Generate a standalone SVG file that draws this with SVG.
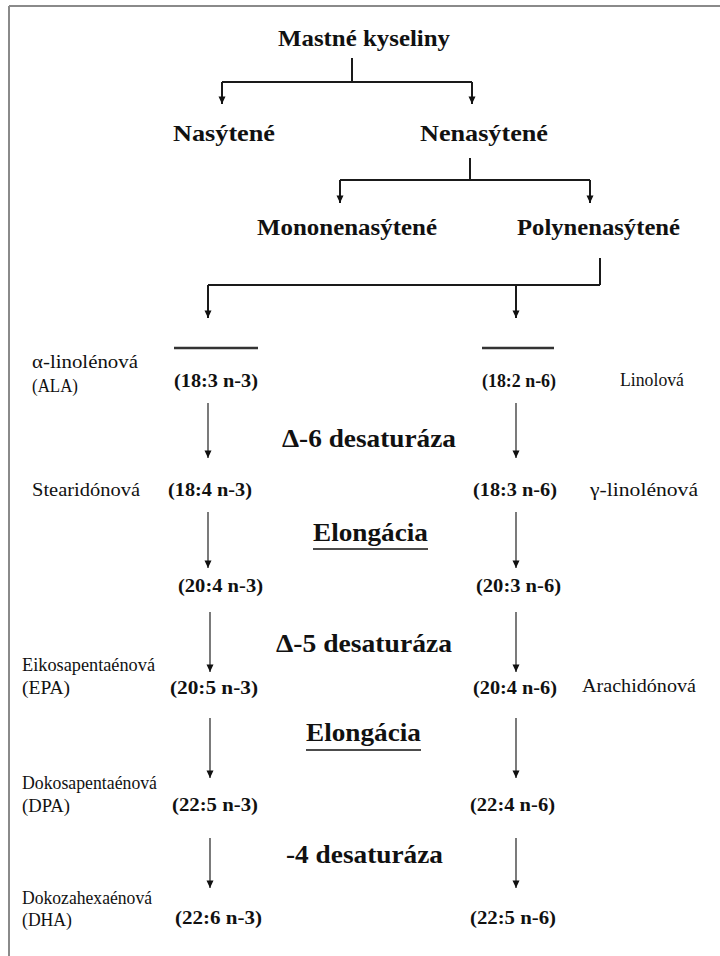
<svg xmlns="http://www.w3.org/2000/svg" width="720" height="956" viewBox="0 0 720 956">
<style>
  text { font-family: "Liberation Serif", "Times New Roman", Times, serif; fill: #111; }
  .h { font-weight: bold; font-size: 23px; }
  .e { font-weight: bold; font-size: 25px; }
  .c { font-weight: bold; font-size: 19px; }
  .n { font-size: 18px; }
  .tree { stroke: #1a1a1a; stroke-width: 2; fill: none; }
  .flow { stroke: #333; stroke-width: 1.3; fill: none; }
  .bar { stroke: #333; stroke-width: 2.5; }
  .frame { stroke: #8a8a8a; stroke-width: 2; }
</style>
<defs>
  <marker id="ad" markerUnits="userSpaceOnUse" markerWidth="8" markerHeight="9" refX="4" refY="8.5" orient="0" viewBox="0 0 8 9">
    <path d="M0.5,1 L7.5,1 L4,8.5 Z" fill="#111"/>
  </marker>
</defs>
<rect width="720" height="956" fill="#fff"/>
<g id="frame">
  <line class="frame" x1="9" y1="6" x2="720" y2="6"/>
  <line class="frame" x1="9" y1="6" x2="9" y2="956"/>
</g>
<g id="connectors">
  <path class="tree" d="M352,58 V82"/>
  <path class="tree" d="M222,82 H472"/>
  <path class="tree" d="M222,82 V104" marker-end="url(#ad)"/>
  <path class="tree" d="M472,82 V104" marker-end="url(#ad)"/>
  <path class="tree" d="M470,158 V180"/>
  <path class="tree" d="M340,180 H590"/>
  <path class="tree" d="M340,180 V203" marker-end="url(#ad)"/>
  <path class="tree" d="M590,180 V203" marker-end="url(#ad)"/>
  <path class="tree" d="M600,258 V285"/>
  <path class="tree" d="M208,285 H600"/>
  <path class="tree" d="M208,285 V318" marker-end="url(#ad)"/>
  <path class="tree" d="M516,285 V318" marker-end="url(#ad)"/>
  <line class="bar" x1="174" y1="348" x2="258" y2="348"/>
  <line class="bar" x1="482" y1="348" x2="554" y2="348"/>
  <path class="flow" d="M208,403 V458" marker-end="url(#ad)"/>
  <path class="flow" d="M516,403 V458" marker-end="url(#ad)"/>
  <path class="flow" d="M208,512 V568" marker-end="url(#ad)"/>
  <path class="flow" d="M516,512 V568" marker-end="url(#ad)"/>
  <path class="flow" d="M210,612 V672" marker-end="url(#ad)"/>
  <path class="flow" d="M516,612 V672" marker-end="url(#ad)"/>
  <path class="flow" d="M210,718 V778" marker-end="url(#ad)"/>
  <path class="flow" d="M516,718 V778" marker-end="url(#ad)"/>
  <path class="flow" d="M210,838 V888" marker-end="url(#ad)"/>
  <path class="flow" d="M516,838 V888" marker-end="url(#ad)"/>
</g>
<g id="mastne"><text class="h" x="278" y="46" textLength="172" lengthAdjust="spacingAndGlyphs">Mastné kyseliny</text></g>
<g id="nasytene"><text class="h" x="173" y="141" textLength="102" lengthAdjust="spacingAndGlyphs">Nasýtené</text></g>
<g id="nenasytene"><text class="h" x="420" y="141" textLength="128" lengthAdjust="spacingAndGlyphs">Nenasýtené</text></g>
<g id="mononenasytene"><text class="h" x="257" y="235" textLength="180" lengthAdjust="spacingAndGlyphs">Mononenasýtené</text></g>
<g id="polynenasytene"><text class="h" x="517" y="235" textLength="163" lengthAdjust="spacingAndGlyphs">Polynenasýtené</text></g>

<g id="ala">
  <text class="n" x="32" y="368" textLength="106" lengthAdjust="spacingAndGlyphs">α-linolénová</text>
  <text class="n" x="32" y="392" textLength="46" lengthAdjust="spacingAndGlyphs">(ALA)</text>
  <text class="c" x="174" y="387" textLength="84" lengthAdjust="spacingAndGlyphs">(18:3 n-3)</text>
</g>
<g id="la">
  <text class="c" x="482" y="387" textLength="74" lengthAdjust="spacingAndGlyphs">(18:2 n-6)</text>
  <text class="n" x="620" y="386" textLength="64" lengthAdjust="spacingAndGlyphs">Linolová</text>
</g>
<g id="d6"><text class="e" x="282" y="447" textLength="174" lengthAdjust="spacingAndGlyphs">Δ-6 desaturáza</text></g>
<g id="sda">
  <text class="n" x="32" y="496" textLength="108" lengthAdjust="spacingAndGlyphs">Stearidónová</text>
  <text class="c" x="168" y="496" textLength="84" lengthAdjust="spacingAndGlyphs">(18:4 n-3)</text>
</g>
<g id="gla">
  <text class="c" x="473" y="496" textLength="84" lengthAdjust="spacingAndGlyphs">(18:3 n-6)</text>
  <text class="n" x="590" y="496" textLength="108" lengthAdjust="spacingAndGlyphs">γ-linolénová</text>
</g>
<g id="elong1">
  <text class="e" x="313" y="541" textLength="115" lengthAdjust="spacingAndGlyphs">Elongácia</text>
  <line x1="313" y1="549" x2="428" y2="549" stroke="#111" stroke-width="1.5"/>
</g>
<g id="c204n3"><text class="c" x="178" y="592" textLength="85" lengthAdjust="spacingAndGlyphs">(20:4 n-3)</text></g>
<g id="c203n6"><text class="c" x="476" y="592" textLength="85" lengthAdjust="spacingAndGlyphs">(20:3 n-6)</text></g>
<g id="d5"><text class="e" x="276" y="652" textLength="176" lengthAdjust="spacingAndGlyphs">Δ-5 desaturáza</text></g>
<g id="epa">
  <text class="n" x="22" y="671" textLength="133" lengthAdjust="spacingAndGlyphs">Eikosapentaénová</text>
  <text class="n" x="22" y="694" textLength="48" lengthAdjust="spacingAndGlyphs">(EPA)</text>
  <text class="c" x="170" y="694" textLength="88" lengthAdjust="spacingAndGlyphs">(20:5 n-3)</text>
</g>
<g id="aa">
  <text class="c" x="473" y="694" textLength="84" lengthAdjust="spacingAndGlyphs">(20:4 n-6)</text>
  <text class="n" x="582" y="692" textLength="114" lengthAdjust="spacingAndGlyphs">Arachidónová</text>
</g>
<g id="elong2">
  <text class="e" x="306" y="741" textLength="115" lengthAdjust="spacingAndGlyphs">Elongácia</text>
  <line x1="306" y1="750" x2="421" y2="750" stroke="#111" stroke-width="1.5"/>
</g>
<g id="dpa">
  <text class="n" x="22" y="789" textLength="135" lengthAdjust="spacingAndGlyphs">Dokosapentaénová</text>
  <text class="n" x="22" y="812" textLength="48" lengthAdjust="spacingAndGlyphs">(DPA)</text>
  <text class="c" x="172" y="811" textLength="86" lengthAdjust="spacingAndGlyphs">(22:5 n-3)</text>
</g>
<g id="c224n6"><text class="c" x="470" y="811" textLength="85" lengthAdjust="spacingAndGlyphs">(22:4 n-6)</text></g>
<g id="d4"><text class="e" x="286" y="863" textLength="157" lengthAdjust="spacingAndGlyphs">-4 desaturáza</text></g>
<g id="dha">
  <text class="n" x="22" y="904" textLength="130" lengthAdjust="spacingAndGlyphs">Dokozahexaénová</text>
  <text class="n" x="22" y="926" textLength="50" lengthAdjust="spacingAndGlyphs">(DHA)</text>
  <text class="c" x="175" y="924" textLength="87" lengthAdjust="spacingAndGlyphs">(22:6 n-3)</text>
</g>
<g id="c225n6"><text class="c" x="470" y="924" textLength="86" lengthAdjust="spacingAndGlyphs">(22:5 n-6)</text></g>
</svg>
